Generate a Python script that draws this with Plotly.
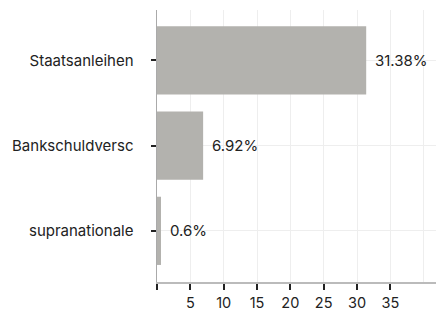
import plotly.graph_objects as go

categories = ["Staatsanleihen", "Bankschuldversc", "supranationale"]
values = [31.38, 6.92, 0.6]
labels = ["31.38%", "6.92%", "0.6%"]
tick_vals = [0, 5, 10, 15, 20, 25, 30, 35]
tick_text = ["", "5", "10", "15", "20", "25", "30", "35"]

fig = go.Figure(go.Bar(
    x=values, y=categories, orientation="h",
    marker=dict(color="#b3b2ae", line=dict(width=0)),
    width=0.8, hoverinfo="none",
))

for c, v, t in zip(categories, values, labels):
    fig.add_annotation(x=v, y=c, text=t, showarrow=False, xanchor="left",
                       xshift=7, font=dict(family="Inter", size=15, color="#222222"))

fig.update_layout(
    width=443, height=311,
    margin=dict(l=157, r=7, t=10, b=29, autoexpand=False),
    plot_bgcolor="white", paper_bgcolor="white",
    font=dict(family="Inter", size=15, color="#222222"),
    showlegend=False,
    xaxis=dict(
        range=[0, 41.85], tickvals=tick_vals, ticktext=tick_text,
        ticks="outside", ticklen=6, tickwidth=2, tickcolor="#222222",
        tickfont=dict(size=14.5),
        showline=True, linecolor="#bbbbbb", linewidth=1.5,
        showgrid=True, gridcolor="#eeeeee", gridwidth=1,
        minor=dict(tick0=0, dtick=5, showgrid=True, gridcolor="#eeeeee", ticks=""),
        zeroline=False, automargin=False, ticklabelstandoff=1,
    ),
    yaxis=dict(
        autorange=False, range=[2.6, -0.59],
        ticks="outside", ticklen=5, tickwidth=2, tickcolor="#222222",
        showline=True, linecolor="#aaaaaa", linewidth=1.5,
        showgrid=True, gridcolor="#eeeeee",
        ticklabelstandoff=14, automargin=False,
    ),
)

fig.write_html("out.html", config={"displayModeBar": False, "staticPlot": True},
               post_script="document.body.style.margin='0';document.body.style.overflow='hidden';")
